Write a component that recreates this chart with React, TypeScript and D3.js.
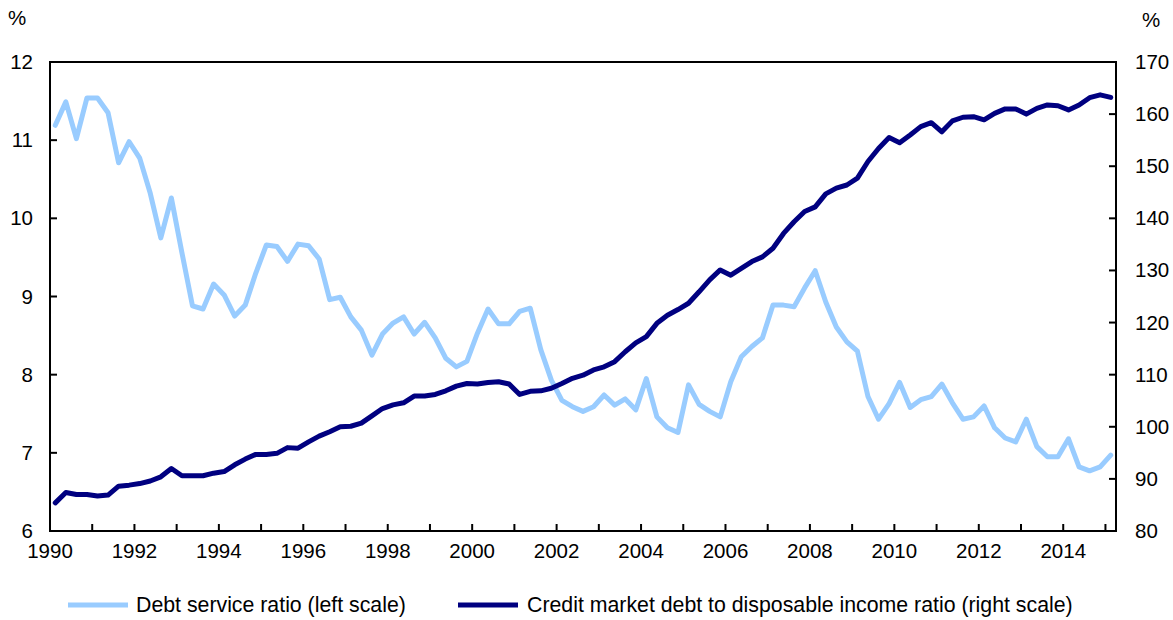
import React from "react";
import * as d3 from "d3";

const startYear = 1990;
const xTickYears = d3.range(1990, 2016);
const xLabelYears = d3.range(1990, 2015, 2);
const leftTicks = [6, 7, 8, 9, 10, 11, 12];
const rightTicks = [80, 90, 100, 110, 120, 130, 140, 150, 160, 170];

// Quarterly, 1990Q1 - 2015Q1
const debtServiceRatio = [
  11.19, 11.49, 11.02, 11.54, 11.54, 11.35, 10.71, 10.98, 10.77, 10.32,
  9.75, 10.26, 9.56, 8.88, 8.84, 9.16, 9.02, 8.75, 8.89, 9.3,
  9.66, 9.64, 9.45, 9.67, 9.65, 9.48, 8.96, 8.99, 8.74, 8.57,
  8.25, 8.52, 8.66, 8.74, 8.52, 8.67, 8.47, 8.21, 8.1, 8.17,
  8.53, 8.84, 8.65, 8.65, 8.81, 8.85, 8.32, 7.93, 7.67, 7.59,
  7.53, 7.59, 7.74, 7.61, 7.69, 7.55, 7.95, 7.46, 7.32, 7.26,
  7.87, 7.62, 7.53, 7.46, 7.91, 8.23, 8.36, 8.47, 8.89, 8.89,
  8.87, 9.11, 9.33, 8.93, 8.61, 8.42, 8.3, 7.72, 7.43, 7.63,
  7.9, 7.58, 7.68, 7.72, 7.88, 7.64, 7.43, 7.46, 7.6, 7.32,
  7.19, 7.14, 7.43, 7.08, 6.95, 6.95, 7.18, 6.82, 6.77, 6.82,
  6.97,
];

const creditDebtRatio = [
  85.4, 87.4, 87.0, 87.0, 86.7, 86.9, 88.6, 88.8, 89.1, 89.6,
  90.4, 92.0, 90.6, 90.6, 90.6, 91.1, 91.4, 92.7, 93.8, 94.7,
  94.7, 94.9, 96.0, 95.9, 97.1, 98.2, 99.05, 100.0, 100.1, 100.7,
  102.1, 103.5, 104.2, 104.6, 105.9, 105.9, 106.2, 106.9, 107.8, 108.3,
  108.2, 108.5, 108.65, 108.2, 106.2, 106.8, 106.9, 107.4, 108.3, 109.3,
  109.9, 110.9, 111.5, 112.5, 114.4, 116.1, 117.3, 119.85, 121.4, 122.5,
  123.7, 125.9, 128.2, 130.1, 129.1, 130.4, 131.7, 132.6, 134.25, 137.1,
  139.35, 141.3, 142.2, 144.7, 145.8, 146.4, 147.7, 150.9, 153.4, 155.5,
  154.5, 156.0, 157.6, 158.35, 156.6, 158.7, 159.4, 159.5, 158.9, 160.15,
  161.0, 161.0, 160.0, 161.1, 161.75, 161.6, 160.8, 161.75, 163.15, 163.7,
  163.2,
];

const legendLabels = [
  "Debt service ratio (left scale)",
  "Credit market debt to disposable income ratio (right scale)",
];

const LIGHT = "#99CCFF";
const DARK = "#000080";
const FONT = "'Liberation Sans', Arial, sans-serif";

export default function App() {
  const W = 1173;
  const H = 620;
  const left = 50;
  const right = 1116;
  const top = 62;
  const bottom = 531;

  const x = d3.scaleLinear().domain([1990, 2015.25]).range([left, right]);
  const yL = d3.scaleLinear().domain([6, 12]).range([bottom, top]);
  const yR = d3.scaleLinear().domain([80, 170]).range([bottom, top]);

  const qx = (i: number) => x(startYear + (i + 0.5) / 4);

  const lineL = d3
    .line<number>()
    .x((_, i) => qx(i))
    .y((d) => yL(d));
  const lineR = d3
    .line<number>()
    .x((_, i) => qx(i))
    .y((d) => yR(d));

  const tickLen = 7;
  const fs = 20.5;
  const lfs = 21.3;

  return (
    <svg
      width={W}
      height={H}
      style={{ position: "absolute", left: 0, top: 0, background: "#fff" }}
      fontFamily={FONT}
    >
      <rect x={0} y={0} width={W} height={H} fill="#fff" />
      {/* series */}
      <path
        d={lineL(debtServiceRatio) || ""}
        fill="none"
        stroke={LIGHT}
        strokeWidth={5}
        strokeLinejoin="round"
        strokeLinecap="round"
      />
      <path
        d={lineR(creditDebtRatio) || ""}
        fill="none"
        stroke={DARK}
        strokeWidth={5}
        strokeLinejoin="round"
        strokeLinecap="round"
      />
      {/* frame */}
      <rect
        x={left}
        y={top}
        width={right - left}
        height={bottom - top}
        fill="none"
        stroke="#000"
        strokeWidth={2}
      />
      {/* x ticks */}
      {xTickYears.map((yr) => (
        <line
          key={"xt" + yr}
          x1={x(yr)}
          x2={x(yr)}
          y1={bottom}
          y2={bottom - tickLen}
          stroke="#000"
          strokeWidth={2}
        />
      ))}
      {xLabelYears.map((yr) => (
        <text
          key={"xl" + yr}
          x={x(yr)}
          y={bottom + 27}
          textAnchor="middle"
          fontSize={fs}
          fill="#000"
        >
          {yr}
        </text>
      ))}
      {/* left ticks */}
      {leftTicks.map((v) => (
        <g key={"lt" + v}>
          <line
            x1={left}
            x2={left + tickLen}
            y1={yL(v)}
            y2={yL(v)}
            stroke="#000"
            strokeWidth={2}
          />
          <text
            x={left - 17}
            y={yL(v) + 7}
            textAnchor="end"
            fontSize={fs}
            fill="#000"
          >
            {v}
          </text>
        </g>
      ))}
      {/* right ticks */}
      {rightTicks.map((v) => (
        <g key={"rt" + v}>
          <line
            x1={right}
            x2={right - tickLen}
            y1={yR(v)}
            y2={yR(v)}
            stroke="#000"
            strokeWidth={2}
          />
          <text
            x={right + 19}
            y={yR(v) + 7}
            textAnchor="start"
            fontSize={fs}
            fill="#000"
          >
            {v}
          </text>
        </g>
      ))}
      {/* unit labels */}
      <text x={8} y={25} fontSize={fs} fill="#000">
        %
      </text>
      <text x={1142} y={27} fontSize={fs} fill="#000">
        %
      </text>
      {/* legend */}
      <line x1={68} x2={128} y1={605} y2={605} stroke={LIGHT} strokeWidth={5} />
      <text x={136} y={612} fontSize={lfs} fill="#000">
        {legendLabels[0]}
      </text>
      <line x1={458} x2={518} y1={605} y2={605} stroke={DARK} strokeWidth={5} />
      <text x={527} y={612} fontSize={lfs} fill="#000">
        {legendLabels[1]}
      </text>
    </svg>
  );
}
